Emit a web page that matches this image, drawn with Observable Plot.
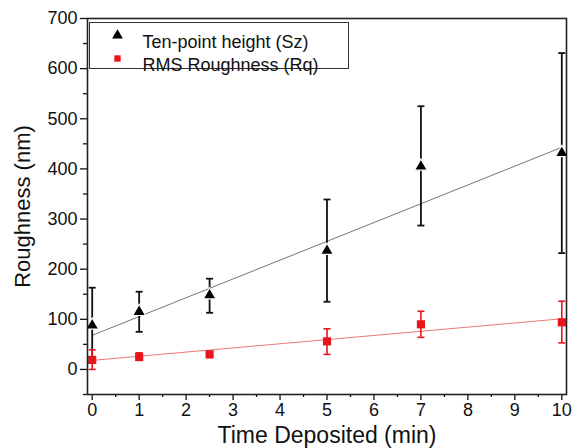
<!DOCTYPE html>
<html><head><meta charset="utf-8">
<script src="https://cdn.jsdelivr.net/npm/d3@7"></script>
<script src="https://cdn.jsdelivr.net/npm/@observablehq/plot@0.6"></script>
<style>
body{margin:0;background:#fff}
#chart svg{font-family:"Liberation Sans", Arial, sans-serif}
</style>
</head><body><div id="chart"></div>
<script>
// Data
const time = [0, 1, 2.5, 5, 7, 10];
const szMean = [88, 115, 148, 237, 405, 432];
const szLow  = [13, 75, 113, 135, 287, 232];
const szHigh = [163, 155, 181, 339, 525, 631];
const rqMean = [19, 25, 30, 56, 90, 94];
const rqLow  = [0, 18, 24, 30, 64, 53];
const rqHigh = [39, 33, 36, 81, 116, 136];
// Linear fit end points
const fitX  = [0, 10];
const szFit = [68, 443];
const rqFit = [18, 101];
// Ticks
const xTicks = [0, 1, 2, 3, 4, 5, 6, 7, 8, 9, 10];
const xMinor = [0.5, 1.5, 2.5, 3.5, 4.5, 5.5, 6.5, 7.5, 8.5, 9.5];
const yTicks = [0, 100, 200, 300, 400, 500, 600, 700];
const yMinor = [-50, 50, 150, 250, 350, 450, 550, 650];
const legendLabels = ["Ten-point height (Sz)", "RMS Roughness (Rq)"];

const red = "#e8151b";
const sz = time.map((t, i) => ({t, m: szMean[i], lo: szLow[i], hi: szHigh[i]}));
const rq = time.map((t, i) => ({t, m: rqMean[i], lo: rqLow[i], hi: rqHigh[i]}));
const szLine = fitX.map((t, i) => ({t, v: szFit[i]}));
const rqLine = fitX.map((t, i) => ({t, v: rqFit[i]}));

const cap = {draw(ctx, size) { const r = Math.sqrt(size / Math.PI); ctx.moveTo(-r, 0); ctx.lineTo(r, 0); }};

const chart = Plot.plot({
  width: 573, height: 448,
  marginLeft: 87, marginRight: 7, marginTop: 18, marginBottom: 54,
  style: {fontSize: "18px", color: "#111"},
  x: {domain: [-0.1, 10.1]},
  y: {domain: [-50, 700]},
  marks: [
    Plot.axisY({ticks: yTicks, tickSize: 7, tickPadding: 3, fontSize: 18, strokeWidth: 1.3, label: "Roughness (nm)", labelAnchor: "center", labelArrow: "none", labelOffset: 73}),
    Plot.axisY({ticks: yMinor, tickSize: 4, text: null, label: null, strokeWidth: 1.3}),
    Plot.axisX({ticks: xTicks, tickSize: 6, tickPadding: 3, fontSize: 18, strokeWidth: 1.3, label: "Time Deposited (min)", labelAnchor: "center", labelArrow: "none", labelOffset: 48}),
    Plot.axisX({ticks: xMinor, tickSize: 3, text: null, label: null, strokeWidth: 1.3}),
    Plot.line(szLine, {x: "t", y: "v", stroke: "#666", strokeWidth: 0.9}),
    Plot.line(rqLine, {x: "t", y: "v", stroke: "#e86a6a", strokeWidth: 0.9}),
    Plot.ruleX(sz, {x: "t", y1: "lo", y2: "hi", stroke: "#111", strokeWidth: 1.8}),
    Plot.dot(sz, {x: "t", y: "lo", symbol: cap, r: 3.5, stroke: "#111", strokeWidth: 1.8}),
    Plot.dot(sz, {x: "t", y: "hi", symbol: cap, r: 3.5, stroke: "#111", strokeWidth: 1.8}),
    Plot.ruleX(rq, {x: "t", y1: "lo", y2: "hi", stroke: red, strokeWidth: 1.6}),
    Plot.dot(rq, {x: "t", y: "lo", symbol: cap, r: 3.5, stroke: red, strokeWidth: 1.6}),
    Plot.dot(rq, {x: "t", y: "hi", symbol: cap, r: 3.5, stroke: red, strokeWidth: 1.6}),
    Plot.dot(sz, {x: "t", y: "m", symbol: "triangle", r: 4.8, fill: "#000", stroke: "#fff", strokeWidth: 1.2}),
    Plot.dot(rq, {x: "t", y: "m", symbol: "square", r: 4.6, fill: red, stroke: "none"}),
    Plot.frame({stroke: "#222", strokeWidth: 1.6}),
    // legend box
    Plot.frame({insetLeft: 2, insetTop: 4, insetRight: 218, insetBottom: 326, stroke: "#333", strokeWidth: 1, fill: "#fff"}),
    Plot.dot([legendLabels[0]], {frameAnchor: "top-left", dx: 30, dy: 17, symbol: "triangle", r: 4, fill: "#000"}),
    Plot.dot([legendLabels[1]], {frameAnchor: "top-left", dx: 30, dy: 40, symbol: "square", r: 3.6, fill: red}),
    Plot.text([legendLabels[0]], {text: d => d, frameAnchor: "top-left", dx: 55, dy: 17, textAnchor: "start", fontSize: 18, fill: "#111"}),
    Plot.text([legendLabels[1]], {text: d => d, frameAnchor: "top-left", dx: 55, dy: 40, textAnchor: "start", fontSize: 18, fill: "#111"})
  ]
});
document.getElementById("chart").append(chart);
chart.querySelectorAll("[aria-label='y-axis label'] text").forEach(t => t.setAttribute("font-size", "22"));
chart.querySelectorAll("[aria-label='x-axis label'] text").forEach(t => t.setAttribute("font-size", "23"));
</script>
</body></html>
